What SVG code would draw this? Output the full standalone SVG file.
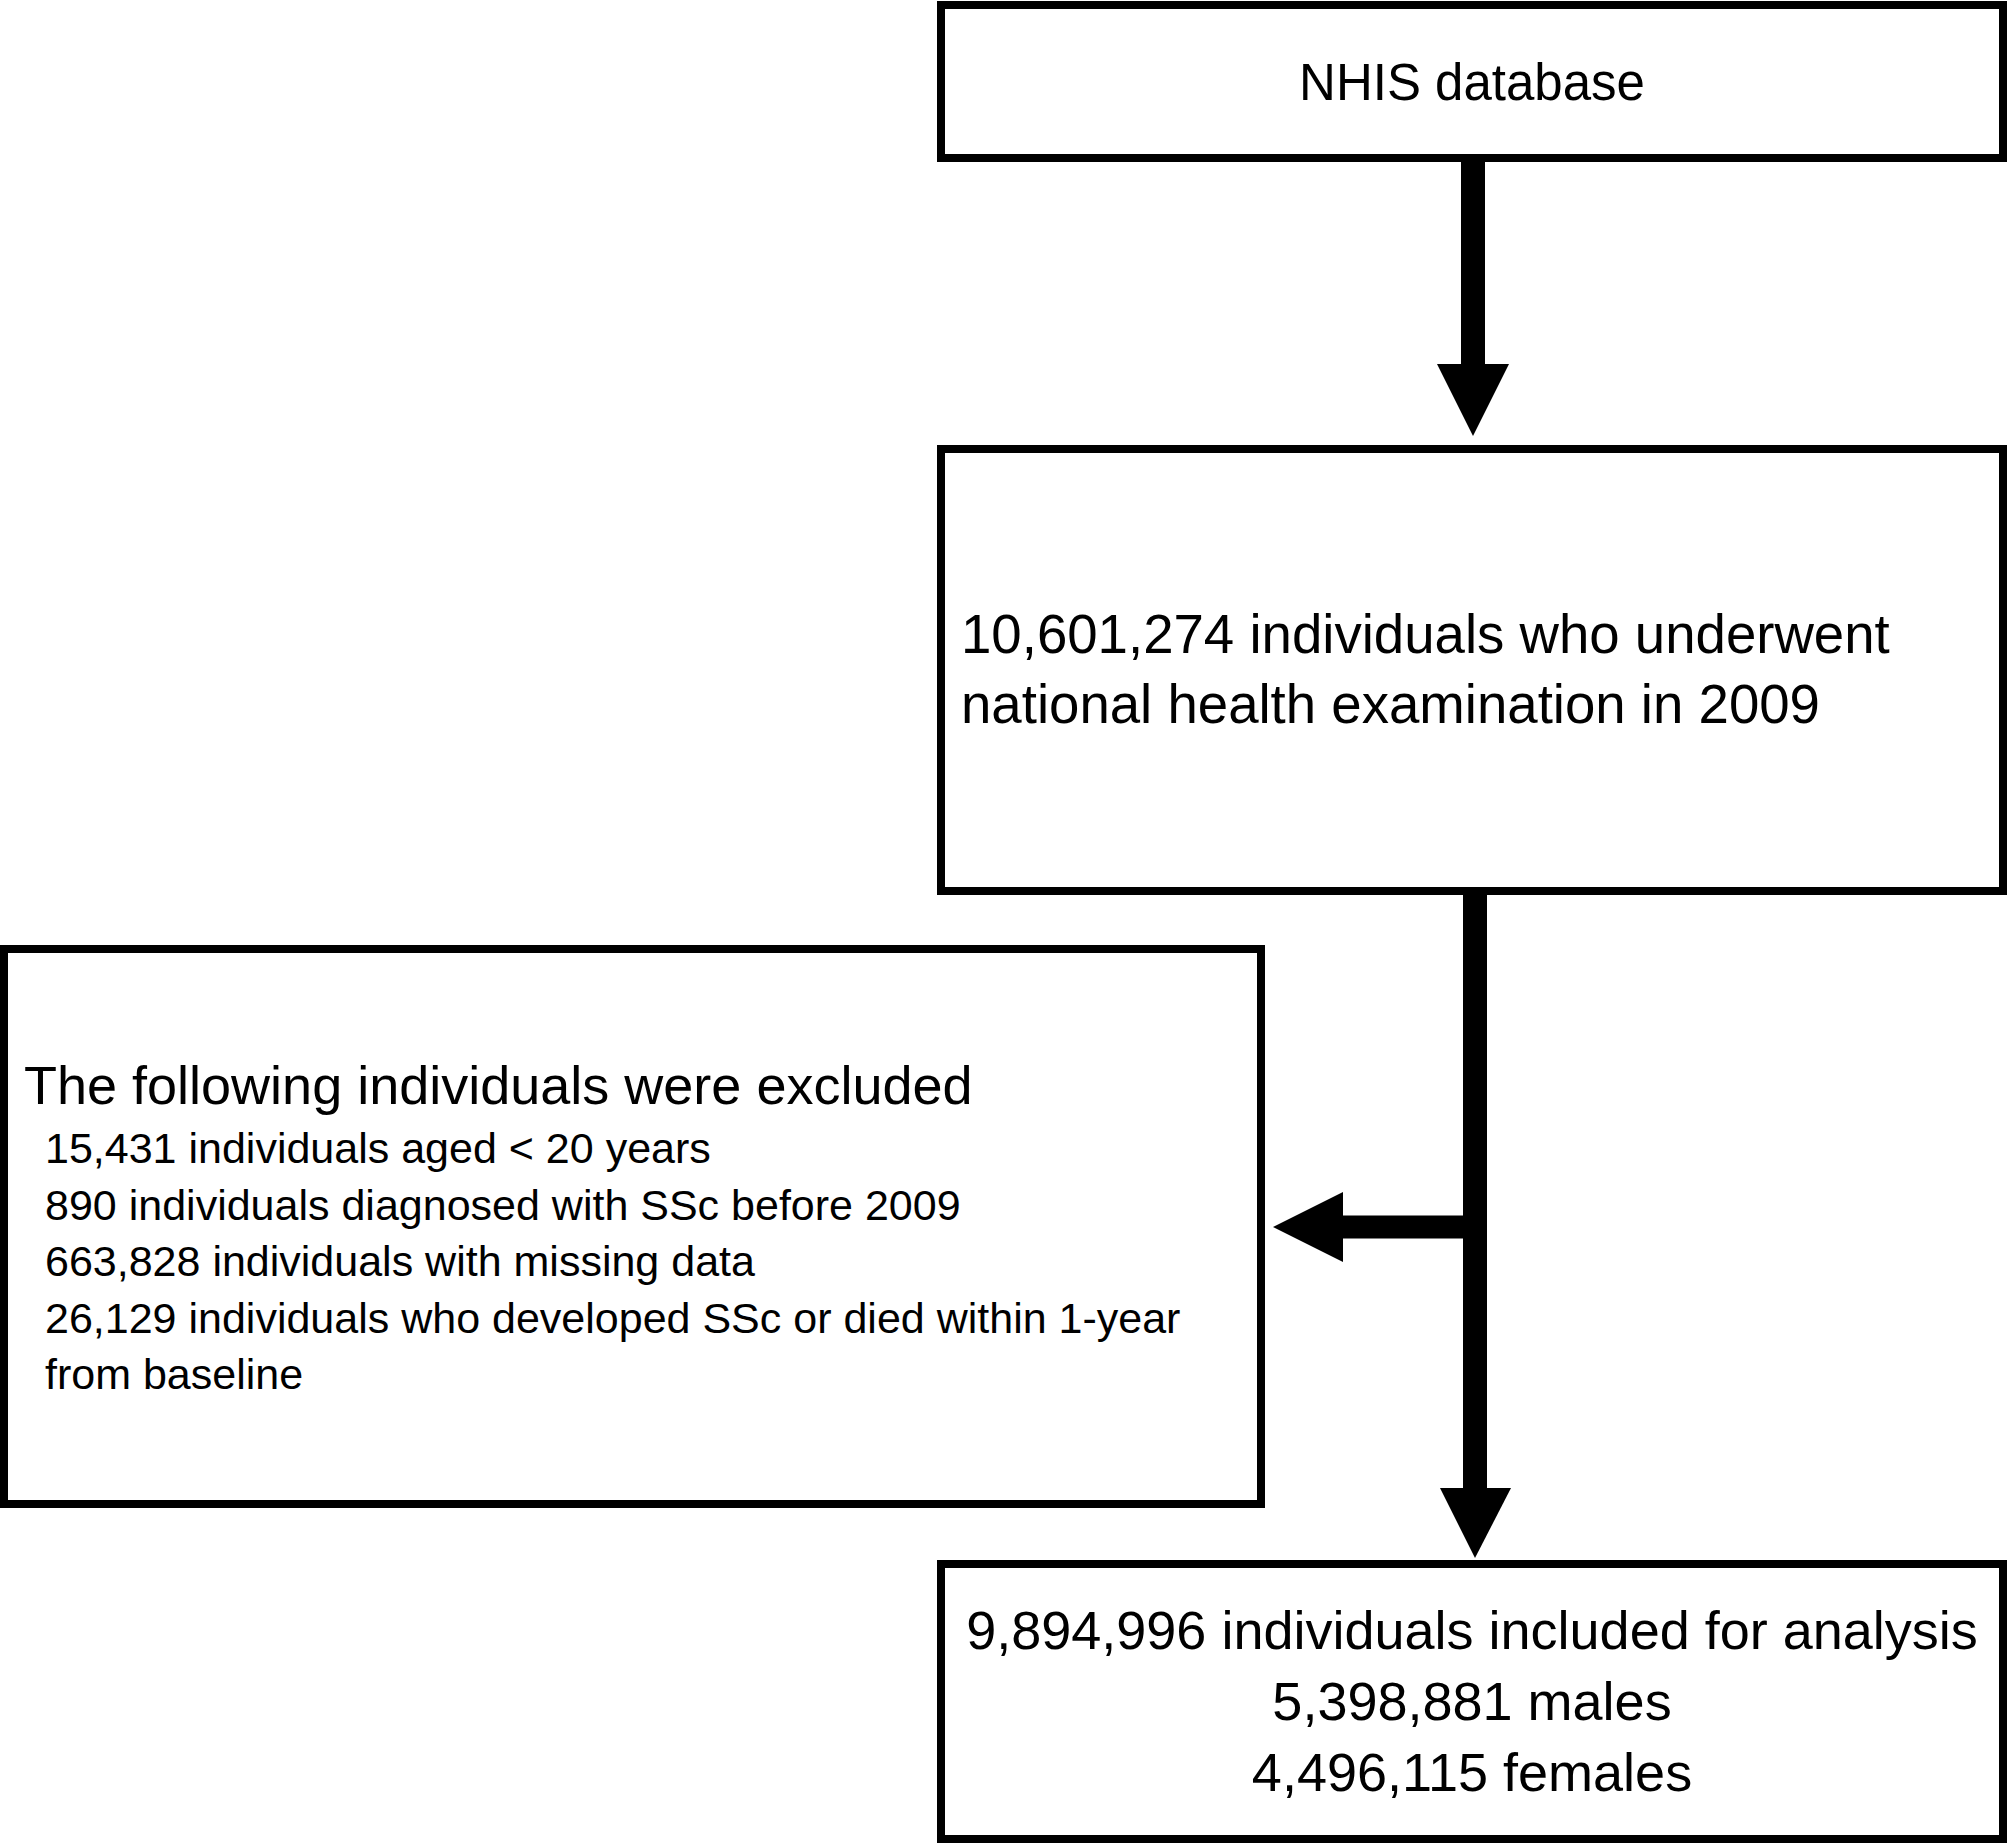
<svg xmlns="http://www.w3.org/2000/svg" width="2008" height="1844" viewBox="0 0 2008 1844">
<style>
.box{fill:#fff;stroke:#000;stroke-width:8}
.t{font-family:"Liberation Sans",Arial,sans-serif;fill:#000}
.big{font-size:54px}
.small{font-size:43px}
.ln{stroke:#000;fill:none}
.hd{fill:#000;stroke:none}
</style>
<rect width="2008" height="1844" fill="#fff"/>
<g id="connectors">
<line class="ln" x1="1473" y1="162" x2="1473" y2="366" stroke-width="24"/>
<polygon class="hd" points="1437,364 1509,364 1473,436"/>
<line class="ln" x1="1475" y1="895" x2="1475" y2="1490" stroke-width="24"/>
<polygon class="hd" points="1440,1488 1511,1488 1475,1558"/>
<line class="ln" x1="1341" y1="1227" x2="1466" y2="1227" stroke-width="23"/>
<polygon class="hd" points="1343,1192 1343,1262 1273,1227"/>
</g>
<g id="node-nhis">
<rect class="box" x="941" y="5" width="1062" height="153"/>
<text class="t" x="1472" y="100" font-size="51" text-anchor="middle">NHIS database</text>
</g>
<g id="node-examined">
<rect class="box" x="941" y="449" width="1062" height="442"/>
<text class="t" x="961" y="653" font-size="54.6">10,601,274 individuals who underwent</text>
<text class="t" x="961" y="723" font-size="54.6">national health examination in 2009</text>
</g>
<g id="node-excluded">
<rect class="box" x="4" y="949" width="1257" height="555"/>
<text class="t big" x="24" y="1104">The following individuals were excluded</text>
<text class="t small" x="45" y="1163">15,431 individuals aged &lt; 20 years</text>
<text class="t small" x="45" y="1220">890 individuals diagnosed with SSc before 2009</text>
<text class="t small" x="45" y="1276">663,828 individuals with missing data</text>
<text class="t small" x="45" y="1333">26,129 individuals who developed SSc or died within 1-year</text>
<text class="t small" x="45" y="1389">from baseline</text>
</g>
<g id="node-included">
<rect class="box" x="941" y="1564" width="1062" height="275"/>
<text class="t big" x="1472" y="1649" text-anchor="middle">9,894,996 individuals included for analysis</text>
<text class="t big" x="1472" y="1720" text-anchor="middle">5,398,881 males</text>
<text class="t big" x="1472" y="1791" text-anchor="middle">4,496,115 females</text>
</g>
</svg>
